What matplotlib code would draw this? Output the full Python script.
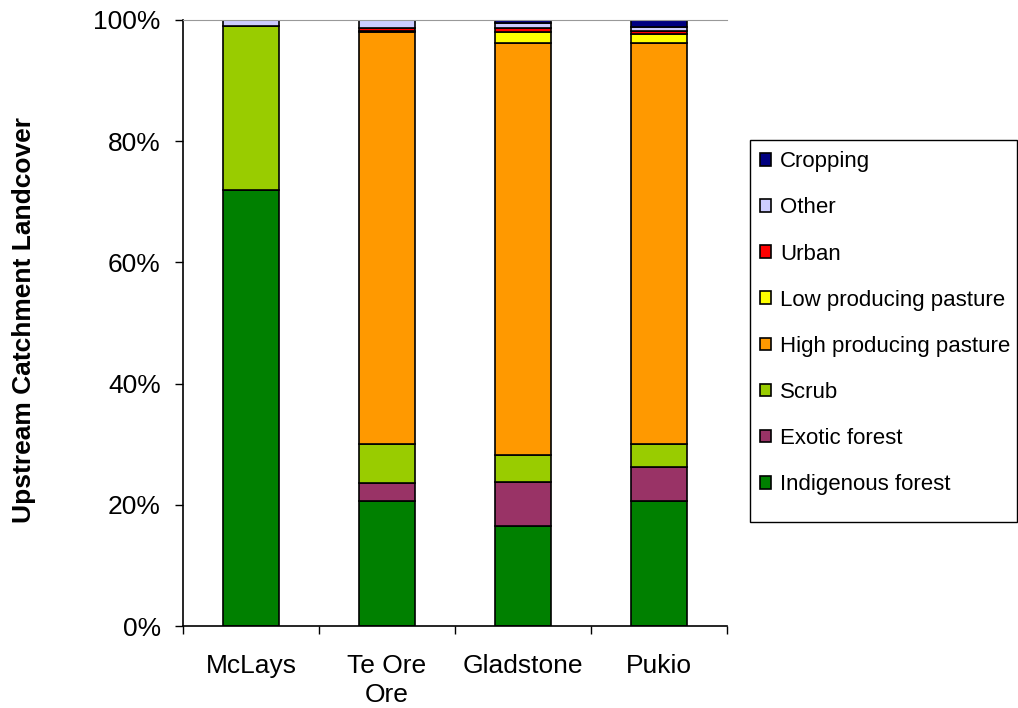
import numpy as np
import matplotlib
matplotlib.use('Agg')
import matplotlib.pyplot as plt
from matplotlib.patches import Rectangle
from matplotlib.ticker import PercentFormatter

plt.rcParams['font.family'] = ['Liberation Sans', 'DejaVu Sans']

sites = ['McLays', 'Te Ore\nOre', 'Gladstone', 'Pukio']

# landcover shares (%) per site, bottom of the stack first
landcover = ['Indigenous forest', 'Exotic forest', 'Scrub', 'High producing pasture',
             'Low producing pasture', 'Urban', 'Other', 'Cropping']
indigenous = [72.0, 20.6, 16.5, 20.6]
exotic = [0.0, 3.0, 7.3, 5.7]
scrub = [27.0, 6.5, 4.5, 3.8]
high_pasture = [0.0, 67.8, 67.9, 66.1]
low_pasture = [0.0, 0.2, 1.7, 1.4]
urban = [0.0, 0.5, 0.8, 0.5]
other = [1.0, 1.3, 0.8, 0.7]
cropping = [0.0, 0.1, 0.5, 1.2]

series = [indigenous, exotic, scrub, high_pasture, low_pasture, urban, other, cropping]
colours = ['#008000', '#993366', '#99CC00', '#FF9900', '#FFFF00', '#FF0000', '#CCCCFF', '#000080']

fig = plt.figure(figsize=(10.18, 7.08), dpi=100)
ax = fig.add_axes([0.1798, 0.1154, 0.5344, 0.8568])

x = np.arange(len(sites))
bottom = np.zeros(len(sites))
handles = []
for vals, col, name in zip(series, colours, landcover):
    vals = np.array(vals)
    b = ax.bar(x, vals, width=0.41, bottom=bottom, color=col, edgecolor='black',
               linewidth=1.2, label=name)
    handles.append(b)
    bottom += vals

ax.set_xlim(-0.5, len(sites) - 0.5)
ax.set_ylim(0, 100)
ax.set_yticks(np.arange(0, 101, 20))
ax.yaxis.set_major_formatter(PercentFormatter(decimals=0))
ax.set_xticks(x)
ax.set_xticklabels(sites, fontsize=19, linespacing=1.28)
ax.set_xticks(np.arange(-0.5, len(sites), 1), minor=True)
ax.tick_params(axis='x', which='major', length=0, pad=20)
ax.tick_params(axis='x', which='minor', length=6, width=1, direction='out')
ax.tick_params(axis='y', length=6, width=1, direction='out', labelsize=19, pad=10)

ax.spines['right'].set_visible(False)
ax.spines['top'].set_color('#999999')
ax.spines['left'].set_linewidth(1.2)
ax.spines['bottom'].set_linewidth(1.2)

ax.set_ylabel('Upstream Catchment Landcover', fontsize=19, fontweight='bold')
ax.yaxis.set_label_coords(-0.27, 0.505)

# legend frame drawn separately so it can sit taller than the entries
fig.patches.append(Rectangle((750 / 1018, 1 - 522 / 708), 267 / 1018, 382 / 708,
                             transform=fig.transFigure, facecolor='white',
                             edgecolor='black', linewidth=1.0, zorder=1))
leg = fig.legend(handles[::-1], landcover[::-1], loc='upper left',
                 bbox_to_anchor=(0.736, 0.802), fontsize=16, frameon=False,
                 labelspacing=1.13, handlelength=0.5, handleheight=0.5,
                 handletextpad=0.4, borderpad=0.5, borderaxespad=0)
leg.set_zorder(2)

fig.savefig('out.png', dpi=100)
